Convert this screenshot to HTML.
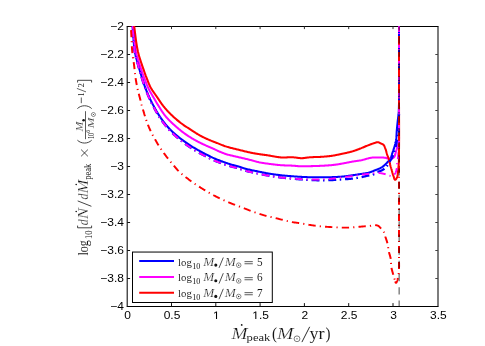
<!DOCTYPE html><html><head><meta charset="utf-8"><title>plot</title><style>html,body{margin:0;padding:0;background:#fff}body{width:485px;height:346px;overflow:hidden;position:relative;font-family:"Liberation Sans",sans-serif}</style></head><body><svg width="485" height="346" viewBox="0 0 485 346" style="position:absolute;left:0;top:0;will-change:transform">
<defs><clipPath id="ax"><rect x="126.7" y="26.0" width="311.8" height="281.0"/></clipPath></defs>
<rect width="485" height="346" fill="#fff"/>
<g stroke="#000" stroke-width="1" fill="none">
<path d="M126.7,26.5H438.5"/>
<path d="M126.7,306.5H438.5"/>
<path d="M127.2,26.5V306.5" stroke="#111" stroke-width="1.1"/>
<path d="M438.0,26.5V306.5" stroke="#111" stroke-width="1.1"/>
<path d="M171.50,306.5v-3.4" stroke="#111"/><path d="M171.50,26.5v2.6" stroke="#333"/>
<path d="M215.80,306.5v-3.4" stroke="#111"/><path d="M215.80,26.5v2.6" stroke="#333"/>
<path d="M260.10,306.5v-3.4" stroke="#111"/><path d="M260.10,26.5v2.6" stroke="#333"/>
<path d="M304.40,306.5v-3.4" stroke="#111"/><path d="M304.40,26.5v2.6" stroke="#333"/>
<path d="M348.70,306.5v-3.4" stroke="#111"/><path d="M348.70,26.5v2.6" stroke="#333"/>
<path d="M393.00,306.5v-3.4" stroke="#111"/><path d="M393.00,26.5v2.6" stroke="#333"/>
<path d="M127.2,54.50h2.9" stroke="#111"/><path d="M438.0,54.50h-2.7" stroke="#444"/>
<path d="M127.2,82.50h2.9" stroke="#111"/><path d="M438.0,82.50h-2.7" stroke="#444"/>
<path d="M127.2,110.50h2.9" stroke="#111"/><path d="M438.0,110.50h-2.7" stroke="#444"/>
<path d="M127.2,138.50h2.9" stroke="#111"/><path d="M438.0,138.50h-2.7" stroke="#444"/>
<path d="M127.2,166.50h2.9" stroke="#111"/><path d="M438.0,166.50h-2.7" stroke="#444"/>
<path d="M127.2,194.50h2.9" stroke="#111"/><path d="M438.0,194.50h-2.7" stroke="#444"/>
<path d="M127.2,222.50h2.9" stroke="#111"/><path d="M438.0,222.50h-2.7" stroke="#444"/>
<path d="M127.2,250.50h2.9" stroke="#111"/><path d="M438.0,250.50h-2.7" stroke="#444"/>
<path d="M127.2,278.50h2.9" stroke="#111"/><path d="M438.0,278.50h-2.7" stroke="#444"/>
</g>
<g clip-path="url(#ax)" fill="none" stroke-linejoin="round">
<path d="M131.70,20.30L131.75,20.71L131.80,21.11L131.85,21.52L131.90,21.92L131.95,22.33L132.00,22.74L132.05,23.14L132.10,23.55L132.15,23.96L132.20,24.36L132.25,24.77L132.30,25.17L132.35,25.58L132.40,25.99L132.45,26.39L132.50,26.80L132.70,28.56L132.87,30.33L133.02,32.10L133.15,33.87L133.28,35.64L133.40,37.42L133.52,39.19L133.64,40.96L133.78,42.73L133.93,44.50L134.11,46.26L134.31,48.02L134.55,49.78L134.82,51.53L135.14,53.27L135.50,55.00L135.65,55.65L135.81,56.30L135.97,56.95L136.13,57.59L136.30,58.24L136.48,58.88L136.65,59.52L136.83,60.17L137.01,60.81L137.20,61.45L137.38,62.09L137.57,62.73L137.75,63.38L137.94,64.02L138.12,64.66L138.30,65.30L138.52,66.07L138.73,66.84L138.95,67.61L139.17,68.38L139.39,69.15L139.61,69.93L139.83,70.70L140.05,71.47L140.27,72.23L140.50,73.00L140.73,73.77L140.96,74.54L141.19,75.31L141.42,76.07L141.66,76.84L141.90,77.60L142.12,78.29L142.34,78.97L142.55,79.66L142.77,80.34L143.00,81.03L143.22,81.71L143.44,82.39L143.67,83.08L143.90,83.76L144.13,84.44L144.37,85.12L144.61,85.80L144.85,86.48L145.09,87.15L145.35,87.83L145.60,88.50L145.85,89.14L146.10,89.78L146.35,90.42L146.60,91.05L146.86,91.69L147.13,92.32L147.39,92.96L147.66,93.59L147.93,94.22L148.20,94.85L148.48,95.48L148.76,96.11L149.04,96.73L149.32,97.36L149.61,97.98L149.90,98.60L150.13,99.09L150.36,99.57L150.60,100.06L150.83,100.55L151.07,101.03L151.31,101.51L151.55,102.00L151.80,102.48L152.04,102.96L152.29,103.44L152.54,103.92L152.79,104.40L153.04,104.87L153.29,105.35L153.54,105.82L153.80,106.30L154.11,106.88L154.43,107.46L154.74,108.03L155.06,108.61L155.38,109.19L155.70,109.76L156.03,110.33L156.36,110.91L156.69,111.48L157.02,112.04L157.36,112.61L157.70,113.17L158.04,113.73L158.39,114.29L158.74,114.85L159.10,115.40L159.67,116.26L160.24,117.12L160.83,117.98L161.42,118.83L162.02,119.68L162.62,120.51L163.24,121.35L163.86,122.17L164.50,122.99L165.14,123.81L165.79,124.61L166.45,125.41L167.12,126.19L167.81,126.97L168.50,127.74L169.20,128.50L169.87,129.20L170.55,129.89L171.24,130.58L171.93,131.25L172.64,131.92L173.35,132.58L174.07,133.23L174.80,133.87L175.53,134.51L176.27,135.14L177.02,135.76L177.76,136.38L178.52,136.99L179.28,137.60L180.04,138.20L180.80,138.80L181.50,139.34L182.20,139.87L182.90,140.40L183.61,140.92L184.33,141.44L185.04,141.95L185.76,142.46L186.49,142.96L187.22,143.46L187.95,143.95L188.68,144.44L189.42,144.92L190.16,145.40L190.90,145.87L191.65,146.34L192.40,146.80L192.79,147.04L193.19,147.28L193.59,147.52L193.98,147.75L194.38,147.99L194.78,148.22L195.18,148.46L195.58,148.69L195.98,148.92L196.38,149.14L196.78,149.37L197.19,149.60L197.59,149.83L197.99,150.05L198.40,150.28L198.80,150.50L199.18,150.71L199.57,150.92L199.95,151.13L200.34,151.34L200.73,151.55L201.11,151.76L201.50,151.97L201.89,152.17L202.28,152.38L202.66,152.58L203.05,152.79L203.44,152.99L203.83,153.19L204.22,153.40L204.61,153.60L205.00,153.80L205.54,154.08L206.08,154.36L206.62,154.64L207.16,154.91L207.70,155.19L208.24,155.47L208.78,155.74L209.32,156.02L209.86,156.29L210.41,156.56L210.95,156.82L211.50,157.08L212.05,157.34L212.59,157.60L213.15,157.85L213.70,158.10L214.23,158.33L214.76,158.56L215.29,158.79L215.83,159.01L216.36,159.23L216.90,159.44L217.43,159.66L217.97,159.87L218.51,160.08L219.05,160.28L219.59,160.49L220.13,160.69L220.67,160.90L221.22,161.10L221.76,161.30L222.30,161.50L222.84,161.70L223.38,161.90L223.92,162.10L224.46,162.29L225.00,162.49L225.54,162.69L226.08,162.88L226.63,163.07L227.17,163.26L227.71,163.45L228.26,163.63L228.80,163.81L229.35,163.99L229.90,164.16L230.45,164.33L231.00,164.50L231.45,164.63L231.91,164.76L232.36,164.88L232.82,165.00L233.28,165.11L233.73,165.23L234.19,165.34L234.65,165.45L235.11,165.56L235.57,165.67L236.03,165.78L236.48,165.90L236.94,166.02L237.39,166.14L237.85,166.27L238.30,166.40L238.64,166.50L238.98,166.61L239.32,166.72L239.65,166.83L239.99,166.95L240.33,167.06L240.66,167.18L241.00,167.30L241.34,167.42L241.67,167.53L242.01,167.65L242.35,167.76L242.68,167.88L243.02,167.99L243.36,168.10L243.70,168.20L244.59,168.46L245.49,168.71L246.38,168.95L247.28,169.18L248.19,169.40L249.09,169.61L250.00,169.82L250.91,170.01L251.82,170.21L252.73,170.39L253.64,170.58L254.55,170.76L255.47,170.95L256.38,171.13L257.29,171.31L258.20,171.50L258.95,171.66L259.71,171.81L260.46,171.97L261.22,172.12L261.97,172.27L262.73,172.42L263.48,172.57L264.24,172.72L264.99,172.86L265.75,173.01L266.51,173.15L267.26,173.28L268.02,173.42L268.78,173.55L269.54,173.68L270.30,173.80L270.89,173.89L271.48,173.99L272.08,174.08L272.67,174.16L273.26,174.25L273.86,174.33L274.45,174.42L275.04,174.50L275.64,174.58L276.23,174.66L276.83,174.73L277.42,174.81L278.02,174.88L278.61,174.96L279.20,175.03L279.80,175.10L280.70,175.20L281.61,175.30L282.51,175.40L283.42,175.49L284.32,175.58L285.23,175.67L286.14,175.75L287.04,175.83L287.95,175.91L288.86,175.98L289.76,176.06L290.67,176.13L291.58,176.20L292.49,176.27L293.39,176.33L294.30,176.40L295.20,176.46L296.10,176.53L297.00,176.59L297.90,176.65L298.80,176.71L299.70,176.77L300.60,176.82L301.50,176.87L302.40,176.92L303.30,176.97L304.20,177.02L305.10,177.06L306.00,177.10L306.90,177.14L307.80,177.17L308.70,177.20L309.61,177.23L310.51,177.25L311.42,177.27L312.32,177.29L313.23,177.30L314.14,177.31L315.04,177.32L315.95,177.33L316.86,177.33L317.76,177.33L318.67,177.33L319.57,177.33L320.48,177.32L321.39,177.32L322.29,177.31L323.20,177.30L323.96,177.29L324.71,177.28L325.47,177.27L326.23,177.26L326.98,177.25L327.74,177.24L328.50,177.22L329.25,177.21L330.01,177.19L330.76,177.17L331.52,177.15L332.28,177.12L333.03,177.10L333.79,177.07L334.54,177.03L335.30,177.00L335.80,176.98L336.30,176.95L336.80,176.93L337.30,176.90L337.80,176.88L338.30,176.85L338.80,176.83L339.30,176.80L339.80,176.77L340.30,176.74L340.80,176.70L341.30,176.67L341.80,176.63L342.30,176.59L342.80,176.55L343.30,176.50L343.86,176.44L344.43,176.38L344.99,176.32L345.56,176.25L346.12,176.18L346.68,176.11L347.24,176.03L347.81,175.95L348.37,175.87L348.93,175.79L349.49,175.71L350.05,175.63L350.62,175.54L351.18,175.46L351.74,175.38L352.30,175.30L352.91,175.21L353.53,175.12L354.14,175.03L354.75,174.94L355.37,174.85L355.98,174.76L356.59,174.66L357.20,174.57L357.82,174.47L358.43,174.38L359.04,174.28L359.65,174.19L360.26,174.09L360.88,173.99L361.49,173.90L362.10,173.80L362.49,173.74L362.88,173.68L363.27,173.63L363.66,173.58L364.05,173.53L364.44,173.48L364.83,173.43L365.22,173.37L365.60,173.32L365.99,173.26L366.38,173.20L366.77,173.13L367.15,173.06L367.54,172.98L367.92,172.89L368.30,172.80L368.73,172.68L369.16,172.56L369.59,172.43L370.01,172.29L370.43,172.14L370.85,171.99L371.27,171.83L371.69,171.67L372.10,171.50L372.52,171.33L372.93,171.16L373.35,170.99L373.76,170.82L374.17,170.64L374.59,170.47L375.00,170.30L375.44,170.12L375.88,169.95L376.32,169.78L376.77,169.61L377.21,169.44L377.65,169.27L378.10,169.09L378.54,168.91L378.97,168.73L379.41,168.54L379.84,168.34L380.26,168.14L380.68,167.92L381.10,167.69L381.50,167.45L381.90,167.20L382.20,167.00L382.50,166.79L382.79,166.57L383.08,166.35L383.36,166.12L383.64,165.89L383.92,165.65L384.19,165.41L384.46,165.17L384.73,164.92L385.00,164.67L385.26,164.42L385.52,164.17L385.78,163.91L386.04,163.66L386.30,163.40L386.53,163.17L386.76,162.94L386.98,162.71L387.21,162.48L387.44,162.24L387.66,162.01L387.88,161.77L388.10,161.53L388.31,161.29L388.52,161.04L388.73,160.79L388.94,160.54L389.13,160.29L389.33,160.03L389.52,159.77L389.70,159.50L389.98,159.06L390.24,158.62L390.48,158.16L390.70,157.69L390.91,157.22L391.11,156.74L391.30,156.26L391.48,155.77L391.65,155.27L391.82,154.78L391.98,154.28L392.14,153.78L392.30,153.28L392.46,152.79L392.63,152.29L392.80,151.80L392.97,151.32L393.14,150.84L393.30,150.35L393.47,149.87L393.63,149.39L393.79,148.90L393.94,148.42L394.10,147.93L394.25,147.44L394.40,146.95L394.54,146.46L394.68,145.97L394.82,145.48L394.95,144.99L395.08,144.49L395.20,144.00L395.26,143.77L395.31,143.54L395.37,143.31L395.42,143.08L395.47,142.85L395.53,142.62L395.58,142.39L395.63,142.16L395.68,141.92L395.73,141.69L395.78,141.46L395.82,141.23L395.87,141.00L395.91,140.77L395.96,140.53L396.00,140.30L396.10,139.68L396.19,139.06L396.27,138.44L396.33,137.82L396.39,137.19L396.43,136.57L396.47,135.94L396.51,135.31L396.54,134.69L396.57,134.06L396.60,133.43L396.63,132.80L396.67,132.18L396.70,131.55L396.75,130.92L396.80,130.30L396.86,129.67L396.91,129.05L396.97,128.42L397.03,127.80L397.09,127.17L397.15,126.55L397.22,125.92L397.28,125.30L397.34,124.67L397.41,124.05L397.47,123.42L397.54,122.80L397.60,122.17L397.67,121.55L397.73,120.92L397.80,120.30L397.85,119.80L397.91,119.30L397.97,118.80L398.03,118.30L398.09,117.80L398.16,117.30L398.22,116.80L398.28,116.30L398.34,115.80L398.40,115.30L398.46,114.80L398.52,114.30L398.57,113.80L398.62,113.30L398.66,112.80L398.70,112.30L398.74,111.80L398.77,111.30L398.79,110.80L398.82,110.30L398.84,109.80L398.86,109.30L398.87,108.80L398.89,108.30L398.90,107.80L398.91,107.30L398.93,106.80L398.94,106.30L398.95,105.80L398.97,105.30L398.98,104.80L399.00,104.30" stroke="#0000ff" stroke-width="2.05"/>
<path d="M132.20,20.30L132.25,20.71L132.30,21.11L132.35,21.52L132.40,21.93L132.45,22.33L132.50,22.74L132.55,23.14L132.60,23.55L132.65,23.96L132.70,24.36L132.75,24.77L132.80,25.18L132.85,25.58L132.90,25.99L132.95,26.39L133.00,26.80L133.21,28.57L133.40,30.34L133.58,32.11L133.75,33.88L133.91,35.66L134.07,37.43L134.24,39.21L134.42,40.98L134.61,42.75L134.82,44.52L135.05,46.28L135.30,48.04L135.59,49.79L135.92,51.54L136.29,53.27L136.70,55.00L136.87,55.65L137.04,56.30L137.22,56.95L137.40,57.60L137.59,58.24L137.78,58.89L137.97,59.53L138.17,60.17L138.37,60.82L138.57,61.46L138.77,62.10L138.97,62.74L139.18,63.38L139.39,64.02L139.59,64.66L139.80,65.30L140.05,66.07L140.30,66.85L140.56,67.62L140.82,68.39L141.08,69.17L141.34,69.94L141.61,70.71L141.87,71.48L142.14,72.24L142.42,73.01L142.69,73.78L142.97,74.55L143.25,75.31L143.53,76.07L143.81,76.84L144.10,77.60L144.36,78.29L144.62,78.98L144.87,79.66L145.13,80.35L145.39,81.04L145.65,81.73L145.92,82.42L146.18,83.10L146.45,83.78L146.73,84.47L147.00,85.15L147.29,85.82L147.58,86.50L147.88,87.17L148.19,87.84L148.50,88.50L148.82,89.15L149.15,89.80L149.48,90.44L149.83,91.08L150.17,91.71L150.53,92.35L150.89,92.98L151.25,93.60L151.62,94.23L151.98,94.85L152.35,95.48L152.72,96.10L153.09,96.73L153.47,97.35L153.83,97.97L154.20,98.60L154.48,99.08L154.76,99.57L155.05,100.05L155.33,100.54L155.61,101.02L155.90,101.50L156.18,101.99L156.47,102.47L156.75,102.95L157.04,103.43L157.33,103.91L157.62,104.39L157.91,104.87L158.21,105.35L158.50,105.82L158.80,106.30L159.16,106.88L159.53,107.46L159.89,108.04L160.25,108.62L160.62,109.20L160.99,109.78L161.36,110.36L161.73,110.94L162.11,111.51L162.49,112.08L162.87,112.64L163.26,113.21L163.66,113.76L164.07,114.31L164.48,114.86L164.90,115.40L165.47,116.10L166.05,116.79L166.64,117.47L167.24,118.15L167.85,118.81L168.47,119.47L169.10,120.11L169.73,120.76L170.37,121.39L171.02,122.02L171.68,122.64L172.34,123.26L173.00,123.88L173.66,124.49L174.33,125.10L175.00,125.70L175.69,126.32L176.38,126.93L177.08,127.54L177.79,128.14L178.49,128.74L179.21,129.33L179.93,129.91L180.65,130.49L181.37,131.07L182.11,131.63L182.84,132.20L183.59,132.75L184.33,133.30L185.08,133.84L185.84,134.37L186.60,134.90L187.30,135.37L188.00,135.84L188.71,136.30L189.42,136.75L190.13,137.20L190.85,137.64L191.58,138.08L192.30,138.51L193.03,138.94L193.76,139.36L194.50,139.78L195.23,140.19L195.97,140.60L196.71,141.00L197.46,141.40L198.20,141.80L199.06,142.25L199.92,142.69L200.79,143.12L201.67,143.54L202.54,143.96L203.42,144.37L204.30,144.77L205.19,145.17L206.08,145.57L206.96,145.96L207.85,146.35L208.74,146.74L209.63,147.13L210.52,147.52L211.41,147.91L212.30,148.30L213.13,148.67L213.96,149.05L214.79,149.43L215.62,149.81L216.45,150.19L217.27,150.57L218.10,150.95L218.93,151.32L219.77,151.69L220.60,152.05L221.44,152.41L222.28,152.75L223.13,153.08L223.98,153.40L224.84,153.71L225.70,154.00L226.45,154.24L227.20,154.46L227.96,154.68L228.71,154.88L229.47,155.07L230.24,155.26L231.00,155.44L231.77,155.62L232.53,155.79L233.30,155.96L234.07,156.13L234.84,156.30L235.60,156.47L236.37,156.64L237.14,156.82L237.90,157.00L238.71,157.20L239.52,157.39L240.34,157.58L241.15,157.77L241.97,157.96L242.78,158.15L243.59,158.33L244.41,158.52L245.22,158.71L246.03,158.90L246.85,159.09L247.66,159.29L248.47,159.49L249.28,159.69L250.09,159.89L250.90,160.10L251.36,160.22L251.81,160.35L252.27,160.47L252.72,160.60L253.18,160.73L253.63,160.86L254.09,161.00L254.54,161.13L255.00,161.26L255.45,161.39L255.91,161.52L256.37,161.64L256.82,161.76L257.28,161.88L257.74,161.99L258.20,162.10L258.95,162.27L259.70,162.42L260.45,162.57L261.20,162.70L261.95,162.83L262.71,162.96L263.47,163.08L264.23,163.19L264.98,163.30L265.74,163.40L266.50,163.50L267.26,163.60L268.02,163.70L268.78,163.80L269.54,163.90L270.30,164.00L270.89,164.08L271.49,164.16L272.08,164.23L272.67,164.31L273.26,164.39L273.86,164.46L274.45,164.53L275.04,164.60L275.64,164.67L276.23,164.74L276.83,164.80L277.42,164.87L278.01,164.93L278.61,164.99L279.20,165.05L279.80,165.10L280.70,165.17L281.61,165.24L282.51,165.29L283.42,165.34L284.33,165.38L285.23,165.42L286.14,165.45L287.05,165.48L287.95,165.51L288.86,165.54L289.77,165.57L290.68,165.60L291.58,165.64L292.49,165.69L293.39,165.74L294.30,165.80L294.68,165.83L295.05,165.86L295.43,165.89L295.80,165.93L296.17,165.96L296.55,166.00L296.92,166.04L297.30,166.07L297.67,166.11L298.05,166.14L298.42,166.17L298.80,166.21L299.17,166.23L299.55,166.26L299.92,166.28L300.30,166.30L300.82,166.32L301.35,166.33L301.87,166.34L302.40,166.34L302.92,166.34L303.45,166.34L303.97,166.33L304.50,166.32L305.02,166.30L305.55,166.29L306.07,166.27L306.60,166.26L307.12,166.24L307.65,166.23L308.18,166.21L308.70,166.20L309.61,166.18L310.51,166.16L311.42,166.14L312.33,166.12L313.23,166.10L314.14,166.08L315.05,166.05L315.95,166.02L316.86,165.99L317.77,165.96L318.67,165.93L319.58,165.89L320.48,165.85L321.39,165.80L322.29,165.75L323.20,165.70L323.96,165.65L324.72,165.61L325.47,165.56L326.23,165.51L326.99,165.47L327.75,165.42L328.50,165.36L329.26,165.31L330.02,165.25L330.77,165.18L331.53,165.12L332.28,165.04L333.04,164.97L333.79,164.88L334.55,164.80L335.30,164.70L335.83,164.63L336.35,164.55L336.88,164.48L337.41,164.40L337.93,164.31L338.46,164.23L338.98,164.14L339.51,164.05L340.03,163.96L340.56,163.87L341.08,163.77L341.60,163.68L342.13,163.58L342.65,163.49L343.18,163.39L343.70,163.30L344.22,163.21L344.74,163.11L345.26,163.01L345.78,162.91L346.29,162.81L346.81,162.70L347.33,162.60L347.85,162.50L348.37,162.39L348.89,162.29L349.40,162.19L349.92,162.08L350.44,161.99L350.96,161.89L351.48,161.79L352.00,161.70L352.56,161.60L353.12,161.51L353.69,161.43L354.25,161.34L354.81,161.26L355.38,161.18L355.94,161.10L356.50,161.02L357.07,160.94L357.63,160.86L358.19,160.77L358.76,160.69L359.32,160.60L359.88,160.50L360.44,160.40L361.00,160.30L361.71,160.15L362.42,159.99L363.12,159.81L363.83,159.62L364.53,159.43L365.23,159.23L365.93,159.02L366.63,158.82L367.33,158.62L368.03,158.43L368.74,158.25L369.44,158.08L370.15,157.93L370.86,157.80L371.58,157.68L372.30,157.60L372.75,157.56L373.20,157.53L373.65,157.50L374.10,157.48L374.55,157.46L375.00,157.45L375.45,157.44L375.90,157.44L376.35,157.44L376.80,157.45L377.25,157.45L377.70,157.46L378.15,157.47L378.60,157.48L379.05,157.49L379.50,157.50L379.86,157.51L380.23,157.51L380.59,157.52L380.95,157.52L381.32,157.53L381.68,157.53L382.05,157.54L382.41,157.55L382.77,157.56L383.14,157.58L383.50,157.60L383.86,157.63L384.22,157.66L384.58,157.70L384.94,157.75L385.30,157.80L385.58,157.85L385.86,157.92L386.13,158.00L386.40,158.08L386.68,158.18L386.95,158.28L387.22,158.37L387.49,158.47L387.77,158.56L388.04,158.65L388.31,158.73L388.59,158.80L388.86,158.85L389.14,158.89L389.42,158.90L389.70,158.90L389.96,158.88L390.22,158.86L390.48,158.83L390.73,158.79L390.99,158.74L391.25,158.68L391.51,158.61L391.76,158.54L392.01,158.46L392.25,158.36L392.49,158.26L392.73,158.15L392.96,158.03L393.18,157.90L393.39,157.75L393.60,157.60L393.88,157.35L394.13,157.07L394.35,156.77L394.55,156.45L394.71,156.11L394.86,155.75L394.99,155.38L395.10,155.00L395.21,154.61L395.30,154.22L395.39,153.83L395.48,153.43L395.58,153.04L395.67,152.65L395.78,152.27L395.90,151.90L396.02,151.54L396.14,151.18L396.26,150.82L396.37,150.46L396.48,150.10L396.59,149.74L396.69,149.38L396.80,149.01L396.90,148.65L397.00,148.29L397.10,147.92L397.20,147.56L397.30,147.19L397.40,146.83L397.50,146.46L397.60,146.10L397.68,145.81L397.76,145.53L397.84,145.24L397.93,144.96L398.01,144.67L398.10,144.39L398.18,144.10L398.26,143.81L398.34,143.53L398.42,143.24L398.49,142.95L398.56,142.66L398.63,142.37L398.69,142.08L398.75,141.79L398.80,141.50L398.87,141.06L398.92,140.61L398.96,140.16L398.99,139.71L399.01,139.26L399.02,138.81L399.02,138.36L399.02,137.91L399.02,137.46L399.01,137.01L399.00,136.56L399.00,136.10L398.99,135.65L398.99,135.20L398.99,134.75L399.00,134.30" stroke="#ff00ff" stroke-width="2.05"/>
<path d="M133.50,20.30L133.55,20.71L133.60,21.11L133.65,21.52L133.70,21.93L133.75,22.33L133.80,22.74L133.85,23.14L133.89,23.55L133.94,23.96L133.99,24.36L134.04,24.77L134.09,25.18L134.14,25.58L134.20,25.99L134.25,26.39L134.30,26.80L134.52,28.57L134.74,30.35L134.95,32.12L135.17,33.90L135.38,35.67L135.60,37.45L135.82,39.23L136.06,41.00L136.32,42.77L136.59,44.53L136.88,46.29L137.20,48.05L137.55,49.80L137.93,51.54L138.35,53.27L138.80,55.00L138.98,55.65L139.17,56.30L139.36,56.95L139.56,57.60L139.76,58.24L139.96,58.89L140.17,59.53L140.38,60.17L140.59,60.81L140.80,61.46L141.02,62.10L141.23,62.74L141.45,63.38L141.67,64.02L141.88,64.66L142.10,65.30L142.36,66.07L142.62,66.85L142.89,67.62L143.15,68.39L143.42,69.16L143.69,69.94L143.96,70.71L144.23,71.48L144.50,72.24L144.78,73.01L145.06,73.78L145.34,74.55L145.63,75.31L145.91,76.08L146.21,76.84L146.50,77.60L146.73,78.19L146.96,78.79L147.18,79.38L147.41,79.98L147.63,80.58L147.86,81.17L148.09,81.76L148.32,82.36L148.56,82.95L148.80,83.54L149.05,84.12L149.30,84.71L149.56,85.29L149.83,85.86L150.11,86.43L150.40,87.00L150.76,87.67L151.13,88.33L151.52,88.98L151.92,89.62L152.32,90.26L152.74,90.89L153.17,91.52L153.60,92.14L154.04,92.76L154.47,93.38L154.92,94.00L155.36,94.62L155.80,95.23L156.24,95.85L156.67,96.48L157.10,97.10L157.49,97.68L157.88,98.26L158.27,98.85L158.66,99.43L159.04,100.02L159.43,100.60L159.82,101.18L160.21,101.77L160.61,102.35L161.00,102.92L161.40,103.50L161.81,104.07L162.22,104.63L162.64,105.19L163.07,105.75L163.50,106.30L163.87,106.76L164.24,107.21L164.62,107.66L165.00,108.11L165.39,108.56L165.78,109.00L166.17,109.44L166.56,109.88L166.96,110.32L167.36,110.75L167.76,111.18L168.16,111.61L168.57,112.03L168.98,112.46L169.39,112.88L169.80,113.30L170.37,113.87L170.94,114.44L171.52,115.00L172.10,115.56L172.68,116.11L173.27,116.66L173.87,117.21L174.47,117.75L175.07,118.28L175.68,118.81L176.29,119.34L176.90,119.86L177.52,120.38L178.14,120.89L178.77,121.40L179.40,121.90L180.09,122.44L180.79,122.98L181.50,123.50L182.21,124.02L182.93,124.53L183.65,125.04L184.37,125.54L185.10,126.03L185.84,126.53L186.57,127.01L187.31,127.50L188.04,127.98L188.78,128.46L189.52,128.94L190.26,129.42L191.00,129.90L191.60,130.29L192.19,130.68L192.79,131.07L193.39,131.46L193.99,131.85L194.59,132.23L195.19,132.62L195.79,133.00L196.39,133.38L197.00,133.75L197.61,134.13L198.22,134.49L198.84,134.85L199.45,135.21L200.07,135.56L200.70,135.90L201.40,136.27L202.11,136.64L202.82,137.00L203.54,137.36L204.25,137.70L204.97,138.05L205.70,138.38L206.42,138.71L207.15,139.04L207.88,139.36L208.62,139.67L209.35,139.99L210.09,140.29L210.82,140.60L211.56,140.90L212.30,141.20L212.54,141.30L212.79,141.39L213.03,141.49L213.27,141.58L213.52,141.68L213.76,141.77L214.00,141.86L214.25,141.96L214.49,142.05L214.74,142.14L214.98,142.23L215.22,142.33L215.47,142.42L215.71,142.51L215.96,142.61L216.20,142.70L216.79,142.93L217.39,143.17L217.98,143.40L218.57,143.64L219.16,143.89L219.75,144.13L220.34,144.37L220.93,144.61L221.52,144.85L222.11,145.08L222.71,145.31L223.30,145.54L223.90,145.77L224.50,145.98L225.10,146.20L225.70,146.40L226.45,146.64L227.20,146.88L227.96,147.10L228.72,147.31L229.48,147.52L230.24,147.72L231.00,147.92L231.77,148.11L232.53,148.30L233.30,148.49L234.07,148.67L234.83,148.85L235.60,149.04L236.37,149.22L237.13,149.41L237.90,149.60L238.71,149.80L239.52,150.01L240.33,150.21L241.14,150.42L241.95,150.62L242.76,150.83L243.57,151.03L244.38,151.23L245.19,151.43L246.01,151.62L246.82,151.81L247.63,152.00L248.45,152.18L249.26,152.36L250.08,152.53L250.90,152.70L251.35,152.79L251.81,152.88L252.26,152.97L252.72,153.05L253.18,153.14L253.63,153.22L254.09,153.30L254.54,153.38L255.00,153.46L255.46,153.54L255.91,153.62L256.37,153.70L256.83,153.78L257.29,153.85L257.74,153.93L258.20,154.00L258.83,154.10L259.46,154.19L260.09,154.29L260.72,154.38L261.35,154.46L261.98,154.55L262.62,154.63L263.25,154.71L263.88,154.79L264.51,154.88L265.14,154.96L265.78,155.04L266.41,155.13L267.04,155.22L267.67,155.31L268.30,155.40L269.02,155.51L269.74,155.63L270.46,155.76L271.17,155.89L271.89,156.02L272.61,156.16L273.32,156.30L274.04,156.43L274.76,156.56L275.47,156.69L276.19,156.81L276.91,156.93L277.63,157.04L278.35,157.14L279.08,157.23L279.80,157.30L280.70,157.37L281.61,157.42L282.51,157.45L283.42,157.46L284.32,157.45L285.23,157.43L286.14,157.41L287.05,157.38L287.96,157.35L288.86,157.33L289.77,157.31L290.68,157.29L291.58,157.29L292.49,157.31L293.40,157.34L294.30,157.40L294.75,157.44L295.20,157.49L295.65,157.54L296.10,157.60L296.55,157.67L297.00,157.73L297.45,157.80L297.90,157.87L298.35,157.93L298.80,158.00L299.25,158.05L299.69,158.10L300.15,158.14L300.60,158.17L301.05,158.19L301.50,158.20L301.95,158.19L302.40,158.17L302.86,158.14L303.31,158.11L303.76,158.06L304.21,158.00L304.65,157.94L305.10,157.88L305.55,157.82L306.00,157.75L306.45,157.68L306.90,157.62L307.35,157.55L307.80,157.50L308.25,157.44L308.70,157.40L309.60,157.33L310.51,157.26L311.41,157.21L312.32,157.16L313.23,157.13L314.13,157.09L315.04,157.07L315.95,157.04L316.86,157.01L317.76,156.98L318.67,156.95L319.58,156.92L320.48,156.88L321.39,156.83L322.30,156.77L323.20,156.70L323.83,156.65L324.47,156.59L325.10,156.54L325.73,156.49L326.36,156.43L327.00,156.37L327.63,156.31L328.26,156.25L328.89,156.18L329.53,156.11L330.16,156.04L330.79,155.96L331.42,155.88L332.04,155.79L332.67,155.70L333.30,155.60L333.84,155.51L334.38,155.41L334.92,155.31L335.46,155.21L336.00,155.10L336.54,154.99L337.07,154.87L337.61,154.76L338.15,154.64L338.68,154.52L339.22,154.40L339.76,154.28L340.29,154.16L340.83,154.04L341.36,153.92L341.90,153.80L342.53,153.66L343.17,153.53L343.80,153.40L344.44,153.27L345.07,153.14L345.71,153.01L346.34,152.88L346.97,152.74L347.61,152.60L348.24,152.46L348.87,152.32L349.50,152.17L350.13,152.01L350.75,151.85L351.38,151.68L352.00,151.50L352.46,151.36L352.91,151.22L353.37,151.08L353.82,150.93L354.27,150.78L354.72,150.63L355.17,150.47L355.62,150.32L356.07,150.16L356.52,149.99L356.97,149.83L357.41,149.67L357.86,149.50L358.31,149.33L358.75,149.17L359.20,149.00L359.75,148.79L360.30,148.57L360.84,148.35L361.39,148.13L361.93,147.90L362.47,147.67L363.01,147.44L363.55,147.21L364.09,146.97L364.63,146.74L365.17,146.51L365.72,146.28L366.26,146.05L366.80,145.83L367.35,145.61L367.90,145.40L368.30,145.25L368.69,145.09L369.09,144.94L369.49,144.79L369.88,144.63L370.28,144.48L370.68,144.33L371.08,144.18L371.48,144.03L371.88,143.89L372.28,143.75L372.68,143.61L373.08,143.48L373.49,143.35L373.89,143.22L374.30,143.10L374.52,143.03L374.75,142.96L374.97,142.88L375.19,142.80L375.41,142.71L375.64,142.63L375.86,142.55L376.08,142.47L376.31,142.40L376.53,142.33L376.76,142.28L376.99,142.23L377.21,142.20L377.44,142.18L377.67,142.18L377.90,142.20L378.09,142.23L378.27,142.27L378.45,142.32L378.63,142.38L378.81,142.44L378.99,142.52L379.16,142.60L379.33,142.69L379.50,142.77L379.67,142.87L379.84,142.96L380.01,143.05L380.18,143.14L380.36,143.23L380.53,143.32L380.70,143.40L380.86,143.47L381.02,143.54L381.18,143.60L381.34,143.67L381.51,143.73L381.67,143.80L381.83,143.86L381.99,143.93L382.16,144.00L382.31,144.07L382.47,144.14L382.62,144.22L382.77,144.31L382.92,144.40L383.06,144.50L383.20,144.60L383.43,144.80L383.64,145.02L383.84,145.26L384.02,145.51L384.18,145.77L384.33,146.04L384.47,146.33L384.60,146.61L384.72,146.91L384.83,147.21L384.95,147.51L385.05,147.81L385.16,148.11L385.27,148.41L385.38,148.71L385.50,149.00L385.64,149.35L385.77,149.71L385.89,150.06L386.00,150.42L386.10,150.79L386.20,151.15L386.30,151.52L386.39,151.88L386.48,152.25L386.58,152.62L386.67,152.99L386.76,153.35L386.86,153.72L386.97,154.08L387.08,154.44L387.20,154.80L387.30,155.09L387.41,155.38L387.52,155.67L387.64,155.95L387.76,156.24L387.88,156.52L388.00,156.81L388.12,157.09L388.24,157.38L388.36,157.66L388.47,157.95L388.59,158.24L388.70,158.53L388.80,158.81L388.90,159.11L389.00,159.40L389.11,159.76L389.21,160.13L389.30,160.49L389.38,160.86L389.46,161.23L389.54,161.60L389.61,161.97L389.68,162.34L389.75,162.71L389.82,163.09L389.89,163.46L389.96,163.83L390.04,164.20L390.12,164.57L390.21,164.93L390.30,165.30L390.37,165.55L390.44,165.80L390.51,166.05L390.58,166.30L390.66,166.56L390.73,166.81L390.81,167.05L390.88,167.30L390.96,167.55L391.04,167.80L391.12,168.05L391.19,168.30L391.27,168.55L391.35,168.80L391.42,169.05L391.50,169.30L391.63,169.74L391.75,170.18L391.87,170.62L391.98,171.07L392.10,171.51L392.21,171.95L392.32,172.40L392.44,172.84L392.56,173.28L392.68,173.72L392.81,174.16L392.95,174.60L393.10,175.03L393.25,175.46L393.42,175.88L393.60,176.30L393.69,176.54L393.78,176.80L393.86,177.08L393.93,177.38L394.01,177.69L394.08,178.00L394.16,178.31L394.24,178.60L394.33,178.87L394.44,179.12L394.55,179.33L394.68,179.51L394.83,179.64L395.00,179.72L395.19,179.74L395.40,179.70L395.52,179.65L395.63,179.58L395.74,179.51L395.84,179.42L395.93,179.32L396.01,179.22L396.09,179.11L396.16,178.99L396.24,178.87L396.30,178.74L396.37,178.62L396.44,178.49L396.50,178.36L396.57,178.24L396.63,178.12L396.70,178.00L396.91,177.62L397.09,177.22L397.24,176.82L397.37,176.40L397.47,175.98L397.56,175.55L397.62,175.11L397.68,174.67L397.72,174.22L397.76,173.77L397.79,173.32L397.82,172.87L397.86,172.43L397.90,171.98L397.94,171.54L398.00,171.10L398.07,170.61L398.14,170.12L398.20,169.62L398.26,169.13L398.32,168.64L398.37,168.15L398.43,167.65L398.48,167.16L398.52,166.66L398.57,166.17L398.61,165.67L398.65,165.18L398.69,164.69L398.73,164.19L398.77,163.70L398.80,163.20L398.85,162.40L398.89,161.59L398.92,160.78L398.95,159.98L398.97,159.17L398.98,158.37L398.99,157.56L398.99,156.75L398.99,155.95L398.99,155.14L398.99,154.33L398.99,153.53L398.99,152.72L398.99,151.91L398.99,151.11L399.00,150.30L399.03,147.18L399.06,144.05L399.08,140.93L399.09,137.80L399.09,134.68L399.09,131.55L399.09,128.43L399.08,125.30L399.07,122.18L399.05,119.05L399.04,115.93L399.03,112.80L399.02,109.68L399.01,106.55L399.00,103.43L399.00,100.30L399.00,95.30L399.00,90.30L399.00,85.30L399.00,80.30L399.00,75.30L399.00,70.30L399.00,65.30L399.00,60.30L399.00,55.30L399.00,50.30L399.00,45.30L399.00,40.30L399.00,35.30L399.00,30.30L399.00,25.30L399.00,20.30" stroke="#ff0000" stroke-width="2.05"/>
<path transform="scale(1.044,1)" d="M126.08,20.59L126.13,20.99L126.17,21.40L126.22,21.80L126.27,22.21L126.32,22.62L126.37,23.02L126.41,23.43L126.46,23.83L126.51,24.24L126.56,24.65L126.61,25.05L126.66,25.46L126.70,25.87L126.75,26.27L126.80,26.68L126.84,27.09L127.03,28.85L127.20,30.61L127.34,32.38L127.47,34.15L127.59,35.93L127.70,37.70L127.82,39.47L127.94,41.25L128.07,43.02L128.22,44.78L128.39,46.55L128.58,48.31L128.80,50.06L129.07,51.81L129.37,53.55L129.72,55.28L129.86,55.93L130.01,56.58L130.16,57.23L130.32,57.88L130.49,58.52L130.65,59.17L130.82,59.81L130.99,60.45L131.17,61.09L131.34,61.74L131.52,62.38L131.70,63.02L131.87,63.66L132.05,64.30L132.23,64.94L132.40,65.58L132.61,66.36L132.81,67.13L133.02,67.91L133.23,68.68L133.44,69.46L133.65,70.23L133.86,71.00L134.07,71.78L134.29,72.55L134.50,73.32L134.72,74.09L134.94,74.86L135.16,75.63L135.38,76.40L135.61,77.17L135.83,77.94L136.04,78.63L136.25,79.32L136.46,80.02L136.67,80.71L136.88,81.40L137.09,82.09L137.30,82.78L137.52,83.47L137.74,84.16L137.96,84.84L138.18,85.53L138.41,86.22L138.64,86.90L138.87,87.58L139.11,88.27L139.35,88.94L139.59,89.59L139.82,90.24L140.06,90.88L140.31,91.53L140.55,92.17L140.80,92.81L141.05,93.45L141.31,94.09L141.56,94.73L141.82,95.37L142.09,96.01L142.35,96.64L142.62,97.27L142.89,97.91L143.16,98.54L143.44,99.17L143.66,99.66L143.88,100.16L144.10,100.65L144.33,101.14L144.55,101.63L144.78,102.12L145.01,102.61L145.24,103.10L145.48,103.59L145.71,104.07L145.95,104.56L146.18,105.04L146.42,105.53L146.66,106.01L146.90,106.50L147.15,106.98L147.44,107.57L147.74,108.15L148.04,108.74L148.35,109.33L148.65,109.91L148.96,110.49L149.27,111.08L149.58,111.66L149.89,112.24L150.21,112.81L150.53,113.39L150.85,113.96L151.18,114.53L151.51,115.10L151.85,115.67L152.19,116.23L152.73,117.11L153.27,117.98L153.83,118.85L154.39,119.72L154.96,120.58L155.54,121.44L156.12,122.28L156.72,123.13L157.32,123.96L157.93,124.79L158.55,125.61L159.18,126.42L159.82,127.23L160.47,128.02L161.13,128.81L161.79,129.59L162.43,130.31L163.08,131.02L163.73,131.72L164.39,132.41L165.06,133.09L165.74,133.77L166.43,134.44L167.12,135.10L167.82,135.75L168.52,136.40L169.23,137.05L169.94,137.68L170.66,138.32L171.38,138.94L172.10,139.56L172.83,140.18L173.49,140.74L174.16,141.29L174.83,141.83L175.51,142.37L176.19,142.91L176.87,143.44L177.55,143.96L178.24,144.49L178.94,145.00L179.63,145.51L180.33,146.02L181.03,146.52L181.74,147.02L182.44,147.51L183.15,148.00L183.87,148.48L184.24,148.74L184.62,148.99L184.99,149.24L185.37,149.48L185.75,149.73L186.13,149.98L186.50,150.22L186.88,150.47L187.27,150.71L187.65,150.95L188.03,151.19L188.41,151.43L188.80,151.66L189.18,151.90L189.57,152.13L189.95,152.37L190.32,152.58L190.68,152.80L191.05,153.02L191.42,153.23L191.79,153.45L192.16,153.66L192.53,153.87L192.90,154.08L193.27,154.29L193.64,154.50L194.01,154.70L194.38,154.91L194.75,155.12L195.13,155.32L195.50,155.53L195.87,155.73L196.39,156.01L196.90,156.30L197.42,156.58L197.93,156.86L198.45,157.15L198.96,157.43L199.48,157.71L200.00,157.98L200.52,158.26L201.04,158.53L201.56,158.80L202.08,159.07L202.61,159.33L203.13,159.59L203.66,159.84L204.19,160.09L204.70,160.32L205.21,160.54L205.72,160.77L206.23,160.99L206.74,161.20L207.26,161.41L207.77,161.62L208.29,161.83L208.81,162.04L209.33,162.24L209.85,162.44L210.36,162.64L210.88,162.84L211.40,163.03L211.93,163.23L212.45,163.43L212.96,163.62L213.48,163.81L214.00,164.01L214.52,164.20L215.04,164.39L215.56,164.58L216.08,164.77L216.60,164.95L217.12,165.13L217.65,165.32L218.17,165.49L218.69,165.67L219.22,165.84L219.74,166.01L220.27,166.18L220.80,166.34L221.23,166.47L221.67,166.60L222.11,166.72L222.54,166.83L222.98,166.95L223.42,167.06L223.86,167.17L224.30,167.28L224.74,167.39L225.18,167.50L225.62,167.61L226.06,167.73L226.49,167.85L226.93,167.97L227.36,168.10L227.79,168.23L228.12,168.34L228.44,168.45L228.77,168.56L229.09,168.68L229.41,168.79L229.73,168.91L230.06,169.03L230.38,169.15L230.70,169.27L231.02,169.39L231.34,169.51L231.66,169.63L231.98,169.75L232.31,169.86L232.63,169.97L232.96,170.08L233.81,170.35L234.66,170.61L235.52,170.85L236.38,171.09L237.24,171.32L238.11,171.54L238.98,171.75L239.84,171.95L240.71,172.15L241.58,172.35L242.46,172.54L243.33,172.73L244.20,172.92L245.07,173.11L245.94,173.31L246.81,173.50L247.53,173.66L248.25,173.82L248.98,173.99L249.70,174.15L250.42,174.30L251.14,174.46L251.86,174.62L252.58,174.77L253.31,174.92L254.03,175.07L254.75,175.22L255.48,175.36L256.20,175.50L256.93,175.64L257.65,175.77L258.38,175.90L258.94,176.00L259.51,176.10L260.08,176.19L260.64,176.29L261.21,176.38L261.78,176.47L262.34,176.55L262.91,176.64L263.48,176.72L264.05,176.81L264.61,176.89L265.18,176.97L265.75,177.05L266.32,177.13L266.89,177.21L267.46,177.28L268.32,177.40L269.18,177.51L270.05,177.61L270.91,177.72L271.77,177.82L272.64,177.92L273.50,178.01L274.37,178.10L275.23,178.19L276.10,178.28L276.97,178.37L277.83,178.45L278.70,178.54L279.56,178.62L280.43,178.71L281.29,178.79L282.15,178.87L283.01,178.95L283.86,179.03L284.72,179.11L285.58,179.19L286.43,179.27L287.29,179.35L288.14,179.42L289.00,179.49L289.86,179.56L290.72,179.63L291.57,179.70L292.43,179.76L293.29,179.81L294.15,179.87L295.00,179.92L295.87,179.96L296.73,180.01L297.59,180.05L298.46,180.09L299.32,180.13L300.18,180.16L301.05,180.19L301.91,180.22L302.77,180.25L303.64,180.27L304.50,180.29L305.36,180.30L306.23,180.31L307.09,180.32L307.95,180.32L308.82,180.32L309.54,180.32L310.27,180.31L311.00,180.30L311.72,180.29L312.45,180.27L313.17,180.25L313.90,180.23L314.62,180.21L315.35,180.18L316.08,180.16L316.80,180.13L317.53,180.09L318.25,180.06L318.98,180.02L319.70,179.98L320.43,179.94L320.91,179.91L321.39,179.88L321.87,179.85L322.35,179.82L322.83,179.78L323.31,179.75L323.79,179.71L324.27,179.67L324.75,179.63L325.23,179.59L325.71,179.56L326.19,179.52L326.67,179.48L327.15,179.44L327.63,179.40L328.11,179.37L328.64,179.33L329.17,179.29L329.70,179.26L330.23,179.22L330.76,179.19L331.29,179.15L331.82,179.12L332.35,179.09L332.88,179.05L333.41,179.01L333.94,178.97L334.47,178.93L335.00,178.88L335.53,178.83L336.06,178.78L336.59,178.72L337.18,178.65L337.77,178.58L338.36,178.50L338.95,178.42L339.54,178.34L340.13,178.25L340.71,178.17L341.30,178.07L341.89,177.98L342.47,177.88L343.06,177.78L343.64,177.67L344.23,177.56L344.81,177.45L345.40,177.33L345.98,177.21L346.36,177.13L346.74,177.05L347.12,176.96L347.50,176.87L347.88,176.78L348.25,176.69L348.63,176.59L349.01,176.50L349.39,176.40L349.77,176.30L350.14,176.21L350.52,176.11L350.90,176.02L351.28,175.93L351.66,175.83L352.04,175.75L352.38,175.67L352.73,175.60L353.08,175.54L353.43,175.48L353.78,175.42L354.13,175.36L354.49,175.30L354.84,175.24L355.19,175.18L355.54,175.11L355.88,175.04L356.23,174.95L356.57,174.86L356.90,174.75L357.24,174.63L357.57,174.50L357.84,174.37L358.11,174.24L358.38,174.10L358.64,173.95L358.90,173.79L359.16,173.62L359.41,173.46L359.67,173.29L359.92,173.11L360.17,172.93L360.42,172.76L360.67,172.58L360.92,172.41L361.18,172.23L361.43,172.06L361.69,171.90" stroke="#0000ff" stroke-width="2.25" stroke-dasharray="7.60 3.35 1.45 3.65" stroke-dashoffset="6.83"/>
<path transform="scale(1.044,1)" d="M361.69,171.90L362.00,171.77L362.31,171.65L362.63,171.53L362.95,171.42L363.27,171.30L363.59,171.19L363.91,171.08L364.23,170.96L364.55,170.84L364.86,170.72L365.18,170.59L365.48,170.45L365.79,170.30L366.09,170.15L366.38,169.98L366.67,169.80L366.93,169.62L367.19,169.44L367.44,169.24L367.69,169.05L367.94,168.84L368.18,168.63L368.42,168.42L368.66,168.20L368.89,167.97L369.12,167.75L369.34,167.51L369.56,167.28L369.78,167.04L369.99,166.79L370.20,166.55L370.40,166.30L370.62,166.03L370.82,165.75L371.02,165.46L371.21,165.17L371.40,164.87L371.58,164.57L371.75,164.27L371.92,163.96L372.09,163.66L372.26,163.35L372.43,163.04L372.59,162.73L372.76,162.42L372.93,162.11L373.10,161.80L373.28,161.50L373.43,161.23L373.60,160.97L373.76,160.70L373.92,160.44L374.09,160.18L374.25,159.91L374.42,159.65L374.58,159.38L374.74,159.12L374.90,158.85L375.06,158.58L375.21,158.31L375.35,158.04L375.50,157.76L375.63,157.48L375.77,157.20L375.91,156.88L376.04,156.55L376.17,156.22L376.29,155.89L376.40,155.55L376.51,155.21L376.61,154.88L376.72,154.54L376.81,154.19L376.91,153.85L377.01,153.51L377.10,153.17L377.20,152.82L377.29,152.48L377.39,152.14L377.49,151.80L377.64,151.32L377.78,150.83L377.93,150.35L378.07,149.87L378.22,149.38L378.36,148.90L378.51,148.41L378.64,147.93L378.78,147.44L378.91,146.95L379.04,146.46L379.16,145.97L379.28,145.48L379.39,144.99L379.50,144.50L379.60,144.00L379.66,143.65L379.72,143.29L379.78,142.94L379.84,142.58L379.89,142.23L379.94,141.87L379.99,141.52L380.03,141.16L380.07,140.80L380.12,140.44L380.16,140.09L380.20,139.73L380.24,139.37L380.28,139.01L380.32,138.66L380.36,138.30L380.42,137.80L380.48,137.30L380.53,136.80L380.58,136.30L380.63,135.80L380.68,135.30L380.72,134.80L380.77,134.30L380.81,133.80L380.86,133.30L380.90,132.80L380.95,132.30L380.99,131.80L381.04,131.30L381.08,130.80L381.13,130.30L381.18,129.80L381.23,129.30L381.28,128.80L381.33,128.30L381.39,127.80L381.44,127.30L381.49,126.80L381.54,126.30L381.59,125.80L381.64,125.30L381.69,124.80L381.74,124.30L381.78,123.80L381.82,123.30L381.86,122.80L381.90,122.30L381.93,121.80L381.96,121.30L381.98,120.80L382.00,120.30L382.02,119.80L382.04,119.30L382.06,118.80L382.07,118.30L382.08,117.80L382.10,117.30L382.11,116.80L382.12,116.30L382.14,115.80L382.15,115.30L382.17,114.80L382.18,114.30" stroke="#0000ff" stroke-width="2.25" stroke-dasharray="7.60 3.35 1.45 3.65" stroke-dashoffset="0.30"/>
<path transform="scale(1.044,1)" d="M126.08,20.59L126.13,20.99L126.17,21.40L126.22,21.80L126.27,22.21L126.32,22.62L126.37,23.02L126.41,23.43L126.46,23.83L126.51,24.24L126.56,24.65L126.61,25.05L126.66,25.46L126.70,25.87L126.75,26.27L126.80,26.68L126.84,27.09L127.03,28.85L127.20,30.61L127.34,32.38L127.47,34.15L127.59,35.93L127.70,37.70L127.82,39.47L127.94,41.25L128.07,43.02L128.22,44.78L128.39,46.55L128.58,48.31L128.80,50.06L129.07,51.81L129.37,53.55L129.72,55.28L129.86,55.93L130.01,56.58L130.16,57.23L130.32,57.88L130.49,58.52L130.65,59.17L130.82,59.81L130.99,60.45L131.17,61.09L131.34,61.74L131.52,62.38L131.70,63.02L131.87,63.66L132.05,64.30L132.23,64.94L132.40,65.58L132.61,66.36L132.81,67.13L133.02,67.91L133.23,68.68L133.44,69.46L133.65,70.23L133.86,71.00L134.07,71.78L134.29,72.55L134.50,73.32L134.72,74.09L134.94,74.86L135.16,75.63L135.38,76.40L135.61,77.17L135.83,77.94L136.04,78.63L136.25,79.32L136.46,80.02L136.67,80.71L136.88,81.40L137.09,82.09L137.30,82.78L137.52,83.47L137.74,84.16L137.96,84.84L138.18,85.53L138.41,86.22L138.64,86.90L138.87,87.58L139.11,88.27L139.35,88.94L139.59,89.59L139.82,90.24L140.06,90.88L140.31,91.53L140.55,92.17L140.80,92.81L141.05,93.45L141.31,94.09L141.56,94.73L141.82,95.37L142.09,96.01L142.35,96.64L142.62,97.27L142.89,97.91L143.16,98.54L143.44,99.17L143.66,99.66L143.88,100.16L144.10,100.65L144.33,101.14L144.55,101.63L144.78,102.12L145.01,102.61L145.24,103.10L145.48,103.59L145.71,104.07L145.95,104.56L146.18,105.04L146.42,105.53L146.66,106.01L146.90,106.50L147.15,106.98L147.44,107.57L147.74,108.15L148.04,108.74L148.35,109.33L148.65,109.91L148.96,110.49L149.27,111.08L149.58,111.66L149.89,112.24L150.21,112.81L150.53,113.39L150.85,113.96L151.18,114.53L151.51,115.10L151.85,115.67L152.19,116.23L152.73,117.11L153.27,117.98L153.83,118.85L154.39,119.72L154.96,120.58L155.54,121.44L156.12,122.28L156.72,123.13L157.32,123.96L157.93,124.79L158.55,125.61L159.18,126.42L159.82,127.23L160.47,128.02L161.13,128.81L161.79,129.59L162.43,130.31L163.08,131.02L163.73,131.72L164.39,132.41L165.06,133.09L165.74,133.77L166.43,134.44L167.12,135.10L167.82,135.75L168.52,136.40L169.23,137.05L169.94,137.68L170.66,138.32L171.38,138.94L172.10,139.56L172.83,140.18L173.49,140.74L174.16,141.29L174.83,141.83L175.51,142.37L176.19,142.91L176.87,143.44L177.55,143.96L178.24,144.49L178.94,145.00L179.63,145.51L180.33,146.02L181.03,146.52L181.74,147.02L182.44,147.51L183.15,148.00L183.87,148.48L184.24,148.74L184.62,148.99L184.99,149.24L185.37,149.48L185.75,149.73L186.13,149.98L186.50,150.22L186.88,150.47L187.27,150.71L187.65,150.95L188.03,151.19L188.41,151.43L188.80,151.66L189.18,151.90L189.57,152.13L189.95,152.37L190.32,152.58L190.68,152.80L191.05,153.02L191.42,153.23L191.79,153.45L192.16,153.66L192.53,153.87L192.90,154.08L193.27,154.29L193.64,154.50L194.01,154.70L194.38,154.91L194.75,155.12L195.13,155.32L195.50,155.53L195.87,155.73L196.39,156.01L196.90,156.30L197.42,156.58L197.93,156.86L198.45,157.15L198.96,157.43L199.48,157.71L200.00,157.98L200.52,158.26L201.04,158.53L201.56,158.80L202.08,159.07L202.61,159.33L203.13,159.59L203.66,159.84L204.19,160.09L204.70,160.32L205.21,160.54L205.72,160.77L206.23,160.99L206.74,161.20L207.26,161.41L207.77,161.62L208.29,161.83L208.81,162.04L209.33,162.24L209.85,162.44L210.36,162.64L210.88,162.84L211.40,163.03L211.93,163.23L212.45,163.43L212.96,163.62L213.48,163.81L214.00,164.01L214.52,164.20L215.04,164.39L215.56,164.58L216.08,164.77L216.60,164.95L217.12,165.13L217.65,165.32L218.17,165.49L218.69,165.67L219.22,165.84L219.74,166.01L220.27,166.18L220.80,166.34L221.23,166.47L221.67,166.60L222.11,166.72L222.54,166.83L222.98,166.95L223.42,167.06L223.86,167.17L224.30,167.28L224.74,167.39L225.18,167.50L225.62,167.61L226.06,167.73L226.49,167.85L226.93,167.97L227.36,168.10L227.79,168.23L228.12,168.34L228.44,168.45L228.77,168.56L229.09,168.68L229.41,168.79L229.73,168.91L230.06,169.03L230.38,169.15L230.70,169.27L231.02,169.39L231.34,169.51L231.66,169.63L231.98,169.75L232.31,169.86L232.63,169.97L232.96,170.08L233.81,170.35L234.66,170.61L235.52,170.85L236.38,171.09L237.24,171.32L238.11,171.54L238.98,171.75L239.84,171.95L240.71,172.15L241.58,172.35L242.46,172.54L243.33,172.73L244.20,172.92L245.07,173.11L245.94,173.31L246.81,173.50L247.53,173.66L248.25,173.82L248.98,173.99L249.70,174.15L250.42,174.30L251.14,174.46L251.86,174.62L252.58,174.77L253.31,174.92L254.03,175.07L254.75,175.22L255.48,175.36L256.20,175.50L256.93,175.64L257.65,175.77L258.38,175.90L258.94,176.00L259.51,176.10L260.08,176.19L260.64,176.29L261.21,176.38L261.78,176.47L262.34,176.56L262.91,176.64L263.48,176.73L264.05,176.81L264.61,176.89L265.18,176.97L265.75,177.05L266.32,177.13L266.89,177.21L267.46,177.28L268.32,177.39L269.19,177.50L270.05,177.60L270.92,177.70L271.78,177.80L272.65,177.89L273.52,177.97L274.38,178.06L275.25,178.14L276.12,178.22L276.99,178.30L277.86,178.37L278.72,178.44L279.59,178.52L280.46,178.58L281.33,178.65L282.19,178.72L283.05,178.78L283.91,178.85L284.77,178.91L285.64,178.97L286.50,179.03L287.36,179.08L288.22,179.14L289.09,179.19L289.95,179.23L290.81,179.28L291.67,179.32L292.54,179.35L293.40,179.39L294.26,179.41L295.13,179.44L296.00,179.46L296.87,179.48L297.74,179.49L298.61,179.50L299.48,179.51L300.35,179.51L301.23,179.51L302.10,179.51L302.97,179.50L303.84,179.49L304.71,179.48L305.58,179.46L306.45,179.43L307.32,179.40L308.20,179.37L309.07,179.33L309.80,179.30L310.54,179.26L311.27,179.22L312.01,179.17L312.74,179.13L313.48,179.08L314.21,179.03L314.95,178.97L315.68,178.91L316.42,178.85L317.15,178.78L317.89,178.71L318.62,178.64L319.35,178.56L320.08,178.48L320.82,178.40L321.31,178.34L321.80,178.27L322.29,178.21L322.78,178.14L323.26,178.07L323.75,178.00L324.24,177.92L324.73,177.85L325.22,177.78L325.71,177.70L326.20,177.62L326.68,177.55L327.17,177.48L327.66,177.40L328.15,177.33L328.64,177.26L329.18,177.19L329.72,177.11L330.25,177.04L330.79,176.97L331.33,176.90L331.87,176.83L332.41,176.76L332.95,176.69L333.48,176.62L334.02,176.55L334.56,176.48L335.10,176.40L335.64,176.33L336.18,176.25L336.71,176.18L337.25,176.10L337.84,176.01L338.43,175.92L339.01,175.82L339.60,175.72L340.19,175.62L340.77,175.52L341.36,175.42L341.94,175.32L342.53,175.22L343.12,175.12L343.70,175.02L344.29,174.93L344.88,174.83L345.46,174.75L346.05,174.66L346.64,174.58L346.90,174.55L347.17,174.52L347.43,174.49L347.70,174.46L347.96,174.43L348.22,174.40L348.49,174.37L348.75,174.34L349.02,174.31L349.28,174.28L349.54,174.25L349.81,174.22L350.07,174.19L350.33,174.16L350.60,174.13L350.86,174.10L351.22,174.05L351.58,174.01L351.94,173.96L352.30,173.90L352.66,173.85L353.02,173.80L353.38,173.74L353.73,173.69L354.09,173.64L354.45,173.58L354.81,173.53L355.17,173.48L355.53,173.43L355.89,173.39L356.25,173.34L356.61,173.30L356.98,173.26L357.35,173.22L357.72,173.19L358.09,173.15L358.46,173.12L358.83,173.09L359.21,173.06L359.58,173.03L359.95,173.00L360.32,172.97L360.69,172.95L361.06,172.92L361.43,172.89L361.81,172.86L362.18,172.83L362.55,172.80" stroke="#ff00ff" stroke-width="1.9" stroke-dasharray="7.00 3.95 1.15 3.95" stroke-dashoffset="6.53"/>
<path transform="scale(1.044,1)" d="M362.55,172.80L362.94,172.88L363.33,172.95L363.72,173.03L364.11,173.10L364.50,173.17L364.89,173.24L365.29,173.31L365.68,173.38L366.07,173.46L366.46,173.53L366.85,173.61L367.24,173.70L367.62,173.79L368.01,173.88L368.39,173.99L368.77,174.10L369.06,174.19L369.34,174.30L369.62,174.41L369.90,174.53L370.18,174.66L370.45,174.78L370.73,174.91L371.01,175.04L371.28,175.17L371.56,175.29L371.84,175.40L372.12,175.51L372.40,175.60L372.69,175.68L372.98,175.75L373.28,175.80L373.46,175.83L373.65,175.86L373.84,175.89L374.03,175.91L374.22,175.94L374.41,175.97L374.60,175.99L374.79,176.00L374.98,176.01L375.16,176.01L375.35,176.01L375.53,175.99L375.72,175.96L375.90,175.92L376.07,175.87L376.25,175.80L376.41,175.72L376.56,175.63L376.71,175.53L376.85,175.42L376.99,175.30L377.12,175.18L377.25,175.04L377.37,174.90L377.49,174.76L377.60,174.61L377.72,174.46L377.83,174.31L377.94,174.16L378.05,174.00L378.15,173.85L378.26,173.70L378.43,173.44L378.59,173.17L378.74,172.89L378.88,172.60L379.01,172.31L379.13,172.01L379.24,171.71L379.35,171.41L379.44,171.10L379.53,170.79L379.62,170.47L379.70,170.16L379.77,169.84L379.84,169.53L379.91,169.21L379.98,168.90L380.04,168.58L380.09,168.26L380.13,167.94L380.17,167.61L380.19,167.29L380.21,166.96L380.23,166.64L380.24,166.31L380.25,165.98L380.25,165.66L380.26,165.33L380.27,165.00L380.29,164.68L380.31,164.35L380.33,164.02L380.36,163.70L380.41,163.34L380.45,162.98L380.50,162.63L380.56,162.27L380.61,161.92L380.67,161.56L380.73,161.20L380.79,160.85L380.85,160.49L380.91,160.14L380.97,159.78L381.02,159.43L381.08,159.07L381.13,158.71L381.18,158.36L381.23,158.00L381.30,157.40L381.36,156.79L381.42,156.19L381.47,155.58L381.52,154.98L381.57,154.37L381.61,153.76L381.64,153.16L381.68,152.55L381.71,151.94L381.75,151.34L381.78,150.73L381.81,150.12L381.84,149.51L381.87,148.91L381.90,148.30L381.92,147.80L381.94,147.30L381.97,146.80L381.99,146.30L382.00,145.80L382.02,145.30L382.04,144.80L382.06,144.30L382.07,143.80L382.09,143.30L382.10,142.80L382.12,142.30L382.13,141.80L382.15,141.30L382.17,140.80L382.18,140.30" stroke="#ff00ff" stroke-width="1.9" stroke-dasharray="7.00 3.95 1.15 3.95" stroke-dashoffset="0.00"/>
<path transform="scale(1.044,1)" d="M124.43,20.30L124.47,20.71L124.52,21.11L124.57,21.52L124.62,21.92L124.67,22.33L124.72,22.74L124.77,23.14L124.82,23.55L124.87,23.96L124.91,24.36L124.96,24.77L125.01,25.17L125.06,25.58L125.10,25.99L125.15,26.39L125.19,26.80L125.37,28.56L125.51,30.32L125.64,32.08L125.75,33.84L125.84,35.61L125.92,37.37L125.99,39.14L126.06,40.90L126.13,42.67L126.21,44.44L126.30,46.20L126.40,47.97L126.52,49.73L126.65,51.49L126.82,53.25L127.01,55.00L127.09,55.65L127.17,56.29L127.26,56.93L127.35,57.58L127.44,58.22L127.53,58.86L127.63,59.51L127.72,60.15L127.82,60.79L127.91,61.44L128.01,62.08L128.10,62.72L128.19,63.37L128.28,64.01L128.37,64.66L128.45,65.30L128.54,66.07L128.63,66.84L128.71,67.60L128.79,68.37L128.87,69.14L128.94,69.91L129.02,70.68L129.09,71.45L129.17,72.22L129.24,72.99L129.32,73.76L129.40,74.53L129.49,75.30L129.58,76.07L129.68,76.83L129.79,77.60L129.89,78.28L129.99,78.97L130.10,79.65L130.21,80.34L130.32,81.02L130.43,81.70L130.55,82.38L130.66,83.07L130.78,83.75L130.91,84.43L131.04,85.11L131.16,85.79L131.30,86.47L131.43,87.14L131.57,87.82L131.70,88.50L131.86,89.22L132.02,89.95L132.18,90.67L132.35,91.39L132.52,92.11L132.70,92.82L132.87,93.54L133.05,94.26L133.23,94.98L133.42,95.69L133.60,96.41L133.78,97.13L133.96,97.84L134.14,98.56L134.31,99.28L134.48,100.00L134.56,100.33L134.64,100.66L134.71,100.99L134.79,101.33L134.87,101.66L134.94,101.99L135.02,102.32L135.09,102.65L135.17,102.98L135.25,103.32L135.32,103.65L135.40,103.98L135.48,104.31L135.56,104.64L135.64,104.97L135.73,105.30L135.86,105.80L135.99,106.31L136.13,106.81L136.27,107.31L136.41,107.81L136.55,108.31L136.70,108.81L136.84,109.31L136.99,109.81L137.14,110.31L137.29,110.81L137.44,111.30L137.59,111.80L137.73,112.30L137.88,112.80L138.03,113.30L138.14,113.71L138.26,114.11L138.38,114.52L138.49,114.93L138.61,115.34L138.73,115.74L138.84,116.15L138.96,116.56L139.08,116.97L139.19,117.37L139.31,117.78L139.44,118.18L139.56,118.59L139.68,118.99L139.81,119.40L139.94,119.80L140.12,120.34L140.30,120.88L140.48,121.41L140.67,121.95L140.86,122.48L141.05,123.02L141.24,123.55L141.44,124.08L141.64,124.62L141.84,125.14L142.04,125.67L142.25,126.20L142.46,126.73L142.67,127.25L142.89,127.78L143.10,128.30L143.28,128.72L143.46,129.15L143.64,129.57L143.83,130.00L144.01,130.42L144.20,130.84L144.39,131.26L144.58,131.68L144.77,132.10L144.96,132.52L145.16,132.93L145.36,133.35L145.56,133.76L145.76,134.18L145.96,134.59L146.17,135.00L146.34,135.34L146.51,135.67L146.69,136.01L146.86,136.34L147.04,136.67L147.22,137.00L147.40,137.33L147.58,137.66L147.76,137.99L147.95,138.32L148.13,138.65L148.31,138.98L148.49,139.31L148.68,139.64L148.86,139.97L149.04,140.30L149.24,140.66L149.44,141.03L149.64,141.39L149.84,141.76L150.04,142.12L150.24,142.49L150.44,142.85L150.64,143.22L150.84,143.58L151.05,143.94L151.25,144.31L151.46,144.67L151.66,145.03L151.87,145.39L152.09,145.74L152.30,146.10L152.58,146.56L152.87,147.02L153.15,147.48L153.45,147.94L153.74,148.39L154.04,148.84L154.34,149.29L154.64,149.74L154.94,150.19L155.24,150.64L155.55,151.08L155.85,151.53L156.16,151.97L156.47,152.41L156.78,152.86L157.09,153.30L157.35,153.67L157.60,154.03L157.86,154.40L158.12,154.77L158.38,155.13L158.64,155.49L158.91,155.86L159.17,156.22L159.43,156.58L159.70,156.94L159.96,157.31L160.23,157.67L160.50,158.03L160.76,158.38L161.03,158.74L161.30,159.10L161.64,159.55L161.98,159.99L162.32,160.43L162.66,160.87L163.01,161.31L163.35,161.75L163.70,162.19L164.05,162.63L164.40,163.07L164.74,163.50L165.10,163.94L165.45,164.37L165.80,164.80L166.15,165.24L166.50,165.67L166.86,166.10L167.11,166.41L167.36,166.72L167.62,167.03L167.87,167.34L168.12,167.66L168.37,167.97L168.62,168.28L168.88,168.59L169.13,168.90L169.39,169.21L169.65,169.51L169.91,169.81L170.17,170.12L170.44,170.41L170.70,170.71L170.98,171.00L171.38,171.42L171.80,171.84L172.22,172.25L172.64,172.65L173.07,173.04L173.50,173.44L173.94,173.82L174.38,174.21L174.83,174.59L175.27,174.96L175.72,175.34L176.17,175.71L176.62,176.09L177.07,176.46L177.52,176.83L177.97,177.20L178.30,177.48L178.64,177.75L178.98,178.03L179.32,178.30L179.65,178.57L179.99,178.84L180.33,179.11L180.67,179.38L181.02,179.65L181.36,179.92L181.70,180.18L182.05,180.45L182.39,180.71L182.74,180.98L183.08,181.24L183.43,181.50L183.90,181.85L184.37,182.20L184.84,182.55L185.32,182.89L185.79,183.23L186.27,183.57L186.75,183.91L187.23,184.25L187.71,184.59L188.19,184.92L188.67,185.25L189.15,185.58L189.64,185.91L190.12,186.24L190.61,186.57L191.09,186.90L191.39,187.10L191.70,187.31L192.00,187.51L192.31,187.71L192.61,187.91L192.91,188.12L193.22,188.32L193.52,188.52L193.83,188.72L194.14,188.92L194.44,189.12L194.75,189.31L195.05,189.51L195.36,189.71L195.67,189.90L195.98,190.10L196.49,190.42L197.01,190.75L197.52,191.07L198.04,191.39L198.55,191.71L199.07,192.03L199.59,192.34L200.11,192.66L200.63,192.97L201.15,193.28L201.68,193.59L202.20,193.90L202.73,194.20L203.25,194.50L203.78,194.80L204.31,195.10L204.70,195.31L205.08,195.53L205.47,195.74L205.85,195.95L206.24,196.16L206.63,196.37L207.02,196.58L207.41,196.78L207.80,196.99L208.19,197.19L208.58,197.40L208.97,197.60L209.36,197.80L209.75,198.00L210.14,198.20L210.54,198.40L211.05,198.66L211.57,198.91L212.08,199.17L212.60,199.42L213.12,199.67L213.64,199.92L214.16,200.16L214.68,200.41L215.20,200.65L215.72,200.89L216.25,201.13L216.77,201.37L217.29,201.60L217.82,201.84L218.34,202.07L218.87,202.30L219.26,202.47L219.64,202.64L220.03,202.80L220.42,202.97L220.81,203.13L221.20,203.30L221.58,203.46L221.97,203.62L222.36,203.79L222.75,203.95L223.14,204.11L223.53,204.27L223.92,204.43L224.31,204.58L224.70,204.74L225.10,204.90L225.61,205.11L226.13,205.31L226.65,205.51L227.17,205.71L227.70,205.91L228.22,206.11L228.74,206.30L229.26,206.50L229.78,206.70L230.31,206.89L230.83,207.09L231.35,207.29L231.87,207.49L232.39,207.69L232.91,207.89L233.43,208.10L233.82,208.26L234.21,208.42L234.60,208.58L234.99,208.75L235.38,208.91L235.76,209.08L236.15,209.24L236.54,209.41L236.93,209.57L237.32,209.74L237.70,209.90L238.09,210.07L238.48,210.23L238.87,210.39L239.26,210.54L239.66,210.70L240.21,210.92L240.77,211.13L241.33,211.34L241.89,211.55L242.45,211.75L243.01,211.96L243.58,212.16L244.14,212.36L244.70,212.55L245.27,212.75L245.83,212.94L246.40,213.14L246.96,213.33L247.53,213.52L248.09,213.71L248.66,213.90L249.05,214.03L249.43,214.16L249.82,214.29L250.21,214.42L250.60,214.55L250.99,214.68L251.37,214.81L251.76,214.93L252.15,215.06L252.54,215.19L252.93,215.31L253.32,215.43L253.71,215.55L254.10,215.67L254.49,215.79L254.89,215.90L255.45,216.06L256.03,216.21L256.60,216.36L257.17,216.50L257.75,216.64L258.32,216.77L258.90,216.90L259.47,217.03L260.05,217.16L260.63,217.29L261.21,217.42L261.78,217.55L262.36,217.68L262.93,217.82L263.51,217.96L264.08,218.10L264.50,218.21L264.92,218.32L265.34,218.43L265.76,218.54L266.18,218.66L266.60,218.77L267.01,218.88L267.43,219.00L267.85,219.11L268.27,219.23L268.69,219.34L269.11,219.46L269.53,219.57L269.95,219.68L270.37,219.79L270.79,219.90L271.35,220.05L271.91,220.19L272.47,220.34L273.03,220.49L273.59,220.64L274.15,220.79L274.71,220.93L275.27,221.08L275.83,221.22L276.40,221.36L276.96,221.49L277.52,221.63L278.09,221.75L278.65,221.87L279.22,221.99L279.79,222.10L280.22,222.18L280.65,222.25L281.08,222.32L281.51,222.38L281.94,222.45L282.37,222.51L282.80,222.56L283.23,222.62L283.67,222.68L284.10,222.73L284.53,222.79L284.96,222.85L285.39,222.91L285.82,222.97L286.26,223.03L286.69,223.10L287.23,223.19L287.78,223.28L288.32,223.38L288.87,223.48L289.41,223.58L289.96,223.69L290.50,223.79L291.04,223.90L291.59,224.00L292.13,224.11L292.68,224.21L293.22,224.31L293.77,224.41L294.31,224.51L294.86,224.61L295.40,224.70L295.81,224.77L296.22,224.83L296.62,224.90L297.03,224.97L297.43,225.03L297.84,225.10L298.25,225.16L298.66,225.22L299.06,225.29L299.47,225.35L299.88,225.41L300.28,225.47L300.69,225.53L301.10,225.59L301.51,225.64L301.92,225.70L302.48,225.78L303.04,225.85L303.60,225.92L304.16,225.99L304.72,226.06L305.29,226.13L305.85,226.20L306.41,226.26L306.97,226.32L307.54,226.38L308.10,226.44L308.66,226.50L309.23,226.55L309.79,226.60L310.36,226.65L310.92,226.70L311.36,226.73L311.79,226.77L312.23,226.80L312.67,226.82L313.10,226.85L313.54,226.87L313.98,226.90L314.41,226.92L314.85,226.94L315.29,226.97L315.73,226.99L316.16,227.01L316.60,227.03L317.04,227.05L317.47,227.08L317.91,227.10L318.50,227.13L319.09,227.17L319.67,227.20L320.26,227.24L320.84,227.28L321.43,227.32L322.02,227.35L322.60,227.39L323.19,227.42L323.78,227.46L324.36,227.49L324.95,227.52L325.54,227.54L326.12,227.57L326.71,227.59L327.30,227.60L327.69,227.61L328.09,227.62L328.48,227.62L328.88,227.63L329.27,227.63L329.67,227.64L330.06,227.64L330.46,227.64L330.86,227.64L331.25,227.64L331.65,227.64L332.04,227.63L332.44,227.63L332.83,227.62L333.23,227.61L333.62,227.60L334.18,227.58L334.75,227.55L335.31,227.52L335.87,227.49L336.44,227.45L337.00,227.40L337.56,227.36L338.13,227.31L338.69,227.26L339.25,227.21L339.81,227.15L340.38,227.10L340.94,227.05L341.50,227.00L342.06,226.95L342.62,226.90L343.06,226.86L343.49,226.83L343.92,226.79L344.35,226.75L344.78,226.72L345.21,226.68L345.64,226.64L346.07,226.60L346.50,226.56L346.93,226.52L347.37,226.49L347.80,226.45L348.23,226.41L348.66,226.37L349.09,226.34L349.52,226.30L349.83,226.28L350.13,226.25L350.44,226.23L350.74,226.21L351.05,226.19L351.35,226.17L351.66,226.15L351.97,226.12L352.27,226.10L352.58,226.08L352.88,226.05L353.19,226.03L353.49,226.00L353.80,225.97L354.10,225.94L354.41,225.90L354.71,225.86L355.01,225.80L355.31,225.74L355.61,225.67L355.90,225.60L356.20,225.52L356.50,225.45L356.80,225.37L357.10,225.31L357.40,225.24L357.69,225.19L357.99,225.14L358.29,225.11L358.59,225.09L358.89,225.08L359.20,225.10L359.40,225.12L359.60,225.14L359.81,225.16L360.01,225.19L360.22,225.22L360.42,225.25L360.62,225.29L360.82,225.33L361.02,225.38L361.22,225.43L361.42,225.49L361.61,225.56L361.80,225.63L361.99,225.71L362.18,225.80L362.36,225.90L362.53,226.01L362.71,226.13L362.87,226.26L363.03,226.39L363.19,226.53L363.34,226.68L363.49,226.84L363.63,226.99L363.77,227.16L363.91,227.32L364.05,227.48L364.19,227.65L364.33,227.82L364.47,227.98L364.61,228.14L364.75,228.30L364.94,228.50L365.12,228.70L365.31,228.90L365.50,229.10L365.69,229.31L365.88,229.51L366.06,229.71L366.24,229.92L366.42,230.13L366.60,230.34L366.77,230.56L366.93,230.77L367.09,231.00L367.25,231.23L367.39,231.46L367.53,231.70L367.67,231.97L367.79,232.24L367.90,232.51L368.01,232.79L368.11,233.08L368.19,233.37L368.28,233.66L368.36,233.95L368.43,234.24L368.50,234.54L368.58,234.84L368.65,235.13L368.72,235.43L368.80,235.72L368.88,236.01L368.97,236.30L369.09,236.71L369.22,237.11L369.35,237.51L369.49,237.92L369.62,238.32L369.76,238.73L369.89,239.13L370.02,239.53L370.15,239.94L370.28,240.35L370.41,240.75L370.53,241.16L370.65,241.57L370.76,241.98L370.87,242.39L370.98,242.80L371.10,243.34L371.21,243.87L371.32,244.42L371.41,244.96L371.50,245.50L371.58,246.05L371.65,246.59L371.73,247.14L371.80,247.69L371.88,248.24L371.95,248.78L372.03,249.33L372.11,249.87L372.21,250.42L372.30,250.96L372.41,251.50L372.51,251.95L372.62,252.40L372.74,252.85L372.86,253.30L372.98,253.75L373.11,254.20L373.24,254.64L373.37,255.09L373.49,255.54L373.62,255.99L373.74,256.43L373.85,256.88L373.96,257.33L374.06,257.79L374.15,258.24L374.23,258.70L374.31,259.21L374.37,259.72L374.42,260.23L374.45,260.74L374.48,261.25L374.50,261.77L374.51,262.28L374.53,262.80L374.54,263.31L374.56,263.83L374.58,264.34L374.60,264.86L374.63,265.37L374.68,265.88L374.74,266.39L374.81,266.90L374.88,267.36L374.97,267.81L375.06,268.27L375.15,268.72L375.25,269.17L375.36,269.62L375.47,270.07L375.58,270.52L375.69,270.97L375.81,271.42L375.93,271.87L376.05,272.31L376.17,272.76L376.29,273.21L376.41,273.65L376.53,274.10L376.60,274.36L376.67,274.61L376.74,274.87L376.81,275.13L376.88,275.39L376.95,275.64L377.02,275.90L377.09,276.15L377.16,276.41L377.24,276.67L377.31,276.92L377.38,277.18L377.46,277.43L377.53,277.69L377.61,277.94L377.68,278.20L377.74,278.39L377.80,278.59L377.86,278.78L377.92,278.98L377.98,279.17L378.04,279.36L378.10,279.56L378.16,279.75L378.22,279.94L378.28,280.14L378.34,280.33L378.40,280.53L378.46,280.72L378.52,280.91L378.58,281.11L378.64,281.30" stroke="#ff0000" stroke-width="1.9" stroke-dasharray="7.00 3.95 1.15 3.95" stroke-dashoffset="6.10"/>
<path transform="scale(1.044,1)" d="M378.64,281.30L378.68,281.40L378.71,281.51L378.74,281.62L378.76,281.74L378.79,281.86L378.81,281.98L378.84,282.10L378.86,282.22L378.89,282.33L378.93,282.43L378.97,282.53L379.02,282.61L379.07,282.68L379.14,282.74L379.22,282.78L379.31,282.80L379.41,282.80L379.50,282.77L379.57,282.73L379.64,282.66L379.71,282.58L379.76,282.49L379.81,282.38L379.86,282.27L379.90,282.15L379.94,282.02L379.97,281.89L380.01,281.76L380.05,281.64L380.09,281.52L380.13,281.40L380.17,281.30L380.29,281.05L380.39,280.79L380.49,280.53L380.58,280.27L380.66,280.01L380.74,279.74L380.81,279.47L380.87,279.20L380.93,278.92L380.99,278.65L381.05,278.37L381.10,278.10L381.16,277.82L381.21,277.55L381.27,277.27L381.32,277.00L381.38,276.73L381.43,276.47L381.48,276.20L381.53,275.93L381.58,275.67L381.63,275.40L381.67,275.13L381.71,274.86L381.76,274.59L381.80,274.32L381.83,274.05L381.87,273.78L381.90,273.51L381.93,273.24L381.96,272.97L381.99,272.70L382.02,272.43L382.04,272.15L382.06,271.88L382.08,271.60L382.09,271.33L382.11,271.05L382.12,270.78L382.13,270.50L382.14,270.23L382.14,269.95L382.15,269.68L382.16,269.40L382.16,269.13L382.17,268.85L382.18,268.58L382.18,268.30L382.20,267.78L382.21,267.26L382.21,266.74L382.22,266.23L382.22,265.71L382.22,265.19L382.22,264.67L382.21,264.15L382.21,263.63L382.20,263.11L382.20,262.59L382.19,262.08L382.19,261.56L382.19,261.04L382.18,260.52L382.18,260.00L382.18,245.00L382.18,230.00L382.18,215.00L382.18,200.00L382.18,185.00L382.18,170.00L382.18,155.00L382.18,140.00L382.18,125.00L382.18,110.00L382.18,95.00L382.18,80.00L382.18,65.00L382.18,50.00L382.18,35.00L382.18,20.00" stroke="#ff0000" stroke-width="1.9499999999999997" stroke-dasharray="7.00 3.95 1.15 3.95" stroke-dashoffset="0.00"/>
<path d="M399.0,26.00V28.60" stroke="#ff00ff" stroke-width="2"/>
<path d="M399.0,28.50V31.90" stroke="#ff00ff" stroke-width="2"/>
<path d="M399.0,31.90V33.00" stroke="#0000ff" stroke-width="2"/>
<path d="M399.0,33.00V34.10" stroke="#ff00ff" stroke-width="2"/>
<path d="M399.0,34.10V36.00" stroke="#0000ff" stroke-width="2"/>
<path d="M399.0,44.60V48.00" stroke="#ff00ff" stroke-width="2"/>
<path d="M399.0,48.00V49.10" stroke="#0000ff" stroke-width="2"/>
<path d="M399.0,49.10V50.20" stroke="#ff00ff" stroke-width="2"/>
<path d="M399.0,50.20V52.10" stroke="#0000ff" stroke-width="2"/>
<path d="M399.0,60.70V64.10" stroke="#ff00ff" stroke-width="2"/>
<path d="M399.0,64.10V65.20" stroke="#0000ff" stroke-width="2"/>
<path d="M399.0,65.20V66.30" stroke="#ff00ff" stroke-width="2"/>
<path d="M399.0,66.30V68.20" stroke="#0000ff" stroke-width="2"/>
<path d="M399.0,76.80V80.20" stroke="#ff00ff" stroke-width="2"/>
<path d="M399.0,80.20V81.30" stroke="#0000ff" stroke-width="2"/>
<path d="M399.0,81.30V82.40" stroke="#ff00ff" stroke-width="2"/>
<path d="M399.0,82.40V84.30" stroke="#0000ff" stroke-width="2"/>
<path d="M399.0,92.90V96.30" stroke="#ff00ff" stroke-width="2"/>
<path d="M399.0,96.30V97.40" stroke="#0000ff" stroke-width="2"/>
<path d="M399.0,97.40V98.50" stroke="#ff00ff" stroke-width="2"/>
<path d="M399.0,98.50V100.40" stroke="#0000ff" stroke-width="2"/>
<path d="M399.0,109.00V112.40" stroke="#ff00ff" stroke-width="2"/>
<path d="M399.0,112.40V113.50" stroke="#0000ff" stroke-width="2"/>
<path d="M399.0,113.50V114.60" stroke="#ff00ff" stroke-width="2"/>
<path d="M399.0,114.60V116.50" stroke="#0000ff" stroke-width="2"/>
<path d="M399.0,125.10V128.50" stroke="#ff00ff" stroke-width="2"/>
<path d="M399.0,128.50V129.60" stroke="#0000ff" stroke-width="2"/>
<path d="M399.0,129.60V130.70" stroke="#ff00ff" stroke-width="2"/>
<path d="M399.0,130.70V132.60" stroke="#0000ff" stroke-width="2"/>
<path d="M399.0,36.00V44.60" stroke="#ff0000" stroke-width="2"/>
<path d="M399.0,52.10V60.70" stroke="#ff0000" stroke-width="2"/>
<path d="M399.0,68.20V76.80" stroke="#ff0000" stroke-width="2"/>
<path d="M399.0,84.30V92.90" stroke="#ff0000" stroke-width="2"/>
<path d="M399.0,100.40V109.00" stroke="#ff0000" stroke-width="2"/>
<path d="M399.0,116.50V125.10" stroke="#ff0000" stroke-width="2"/>
<path d="M399.2,26.5V306.5" stroke="#000" stroke-opacity="0.45" stroke-width="1.6" stroke-dasharray="7.2 6.0" stroke-dashoffset="3.3"/>
</g>
<g font-family="Liberation Sans, sans-serif" font-size="12" fill="#000">
<text transform="translate(127.70,319) scale(1,0.9)" text-anchor="middle">0</text>
<text transform="translate(172.00,319) scale(1,0.9)" text-anchor="middle">0.5</text>
<path transform="translate(212.97,319) scale(0.005859,0.005273)" d="M515,0V-1237L197,-1010V-1180L530,-1409H696V0Z"/>
<path transform="translate(252.26,319) scale(0.005859,0.005273)" d="M515,0V-1237L197,-1010V-1180L530,-1409H696V0Z"/>
<text transform="translate(258.93,319) scale(1,0.9)">.5</text>
<text transform="translate(304.90,319) scale(1,0.9)" text-anchor="middle">2</text>
<text transform="translate(349.20,319) scale(1,0.9)" text-anchor="middle">2.5</text>
<text transform="translate(393.50,319) scale(1,0.9)" text-anchor="middle">3</text>
<text transform="translate(438.30,319) scale(1,0.9)" text-anchor="middle">3.5</text>
<text transform="translate(124.0,30.30) scale(1,0.9)" text-anchor="end">−2</text>
<text transform="translate(124.0,58.30) scale(1,0.9)" text-anchor="end">−2.2</text>
<text transform="translate(124.0,86.30) scale(1,0.9)" text-anchor="end">−2.4</text>
<text transform="translate(124.0,114.30) scale(1,0.9)" text-anchor="end">−2.6</text>
<text transform="translate(124.0,142.30) scale(1,0.9)" text-anchor="end">−2.8</text>
<text transform="translate(124.0,170.30) scale(1,0.9)" text-anchor="end">−3</text>
<text transform="translate(124.0,198.30) scale(1,0.9)" text-anchor="end">−3.2</text>
<text transform="translate(124.0,226.30) scale(1,0.9)" text-anchor="end">−3.4</text>
<text transform="translate(124.0,254.30) scale(1,0.9)" text-anchor="end">−3.6</text>
<text transform="translate(124.0,282.30) scale(1,0.9)" text-anchor="end">−3.8</text>
<text transform="translate(124.0,310.30) scale(1,0.9)" text-anchor="end">−4</text>
</g>
<rect x="132.5" y="252.05" width="139.8" height="50.45" fill="#fff" stroke="#000" stroke-width="1"/>
<path d="M139.2,261.1H174" stroke="#0000ff" stroke-width="2"/>
<g font-family="Liberation Serif, serif" fill="#000" opacity="0.92" stroke="#fff" stroke-width="0.03"><text x="178" y="265.6" font-size="10.8" textLength="13.8" lengthAdjust="spacingAndGlyphs">log</text><text x="192.3" y="268.70000000000005" font-size="7.9" stroke="none" textLength="8.1" lengthAdjust="spacingAndGlyphs">10</text><text x="203.3" y="265.6" font-size="12" font-style="italic" stroke-width="0.22" textLength="11" lengthAdjust="spacingAndGlyphs">M</text><circle cx="215.8" cy="265.1" r="1.55" stroke="none"/><path d="M219.0,267.90000000000003L223.3,257.5" stroke="#000" stroke-width="0.75" fill="none"/><text x="224.7" y="265.6" font-size="12" font-style="italic" stroke-width="0.22" textLength="11" lengthAdjust="spacingAndGlyphs">M</text><circle cx="238.7" cy="265.20000000000005" r="2.3" fill="none" stroke="#000" stroke-width="0.5"/><circle cx="238.7" cy="265.20000000000005" r="0.65" stroke="none"/><path d="M244.5,261.65H252.8M244.5,263.75H252.8" stroke="#000" stroke-width="0.7" fill="none"/><text x="257" y="265.6" font-size="12" textLength="5.6" lengthAdjust="spacingAndGlyphs">5</text></g>
<path d="M139.2,277.0H174" stroke="#ff00ff" stroke-width="2"/>
<g font-family="Liberation Serif, serif" fill="#000" opacity="0.92" stroke="#fff" stroke-width="0.03"><text x="178" y="281.3" font-size="10.8" textLength="13.8" lengthAdjust="spacingAndGlyphs">log</text><text x="192.3" y="284.40000000000003" font-size="7.9" stroke="none" textLength="8.1" lengthAdjust="spacingAndGlyphs">10</text><text x="203.3" y="281.3" font-size="12" font-style="italic" stroke-width="0.22" textLength="11" lengthAdjust="spacingAndGlyphs">M</text><circle cx="215.8" cy="280.8" r="1.55" stroke="none"/><path d="M219.0,283.6L223.3,273.2" stroke="#000" stroke-width="0.75" fill="none"/><text x="224.7" y="281.3" font-size="12" font-style="italic" stroke-width="0.22" textLength="11" lengthAdjust="spacingAndGlyphs">M</text><circle cx="238.7" cy="280.90000000000003" r="2.3" fill="none" stroke="#000" stroke-width="0.5"/><circle cx="238.7" cy="280.90000000000003" r="0.65" stroke="none"/><path d="M244.5,277.65H252.8M244.5,279.75H252.8" stroke="#000" stroke-width="0.7" fill="none"/><text x="257" y="281.3" font-size="12" textLength="5.6" lengthAdjust="spacingAndGlyphs">6</text></g>
<path d="M139.2,292.8H174" stroke="#ff0000" stroke-width="2"/>
<g font-family="Liberation Serif, serif" fill="#000" opacity="0.92" stroke="#fff" stroke-width="0.03"><text x="178" y="296.9" font-size="10.8" textLength="13.8" lengthAdjust="spacingAndGlyphs">log</text><text x="192.3" y="300.0" font-size="7.9" stroke="none" textLength="8.1" lengthAdjust="spacingAndGlyphs">10</text><text x="203.3" y="296.9" font-size="12" font-style="italic" stroke-width="0.22" textLength="11" lengthAdjust="spacingAndGlyphs">M</text><circle cx="215.8" cy="296.4" r="1.55" stroke="none"/><path d="M219.0,299.2L223.3,288.79999999999995" stroke="#000" stroke-width="0.75" fill="none"/><text x="224.7" y="296.9" font-size="12" font-style="italic" stroke-width="0.22" textLength="11" lengthAdjust="spacingAndGlyphs">M</text><circle cx="238.7" cy="296.5" r="2.3" fill="none" stroke="#000" stroke-width="0.5"/><circle cx="238.7" cy="296.5" r="0.65" stroke="none"/><path d="M244.5,292.65H252.8M244.5,294.75H252.8" stroke="#000" stroke-width="0.7" fill="none"/><text x="257" y="296.9" font-size="12" textLength="5.6" lengthAdjust="spacingAndGlyphs">7</text></g>
<g font-family="Liberation Serif, serif" fill="#000" opacity="0.92" stroke="#fff" stroke-width="0.03"><text x="231.6" y="338.8" font-size="16" font-style="italic" stroke-width="0.22" textLength="16" lengthAdjust="spacingAndGlyphs">M</text><circle cx="241.7" cy="324.9" r="0.9" stroke="none"/><text x="246.6" y="340.5" font-size="11" textLength="23.8" lengthAdjust="spacingAndGlyphs">peak</text><text x="272" y="338.8" font-size="16" textLength="5" lengthAdjust="spacingAndGlyphs">(</text><text x="277" y="338.8" font-size="16" font-style="italic" stroke-width="0.22" textLength="16.5" lengthAdjust="spacingAndGlyphs">M</text><circle cx="297" cy="338.8" r="2.9" fill="none" stroke="#000" stroke-width="0.55"/><circle cx="297" cy="338.8" r="0.6" stroke="none"/><path d="M301.9,342.1L309.7,326.8" stroke="#000" stroke-width="0.9" fill="none"/><text x="309.5" y="338.8" font-size="16" textLength="15" lengthAdjust="spacingAndGlyphs">yr</text><text x="325.5" y="338.8" font-size="16" textLength="5" lengthAdjust="spacingAndGlyphs">)</text></g>
<g transform="translate(87.8,255.6) rotate(-90)" font-family="Liberation Serif, serif" fill="#000" opacity="0.92" stroke="#fff" stroke-width="0.03">
<text x="0" y="0" font-size="14" textLength="15.4" lengthAdjust="spacingAndGlyphs">log</text>
<text x="16.5" y="3.9" font-size="9.5" stroke="none" textLength="8.5" lengthAdjust="spacingAndGlyphs">10</text>
<path d="M30,-10.2H27.8V3.8H30" stroke="#000" stroke-width="0.8" fill="none"/>
<text x="30.4" y="0" font-size="14" font-style="italic" stroke-width="0.22" textLength="6" lengthAdjust="spacingAndGlyphs">d</text>
<text x="36.6" y="0" font-size="14" font-style="italic" stroke-width="0.22" textLength="11" lengthAdjust="spacingAndGlyphs">N</text>
<circle cx="44.1" cy="-11.6" r="0.8" stroke="none"/>
<path d="M49.3,3.6L54.7,-10.1" stroke="#000" stroke-width="0.8" fill="none"/>
<text x="56" y="0" font-size="14" font-style="italic" stroke-width="0.22" textLength="6" lengthAdjust="spacingAndGlyphs">d</text>
<text x="62.2" y="0" font-size="14" font-style="italic" stroke-width="0.22" textLength="13.8" lengthAdjust="spacingAndGlyphs">M</text>
<circle cx="71.1" cy="-11.6" r="0.8" stroke="none"/>
<text x="75.9" y="3.3" font-size="9.5" stroke="none" textLength="16.1" lengthAdjust="spacingAndGlyphs">peak</text>
<path d="M99.3,-6.7L106,0.1M99.3,0.1L106,-6.7" stroke="#000" stroke-width="0.75" fill="none"/>
<path d="M115.4,-10.4C111.6,-6.5 111.6,0 115.4,3.9" fill="none" stroke="#000" stroke-width="0.8"/>
<path d="M147,-10.4C150.8,-6.5 150.8,0 147,3.9" fill="none" stroke="#000" stroke-width="0.8"/>
<path d="M116.4,-2.3H144.4" stroke="#000" stroke-width="0.7"/>
<text x="124.2" y="-4.8" font-size="10" font-style="italic" stroke-width="0.16" textLength="9.8" lengthAdjust="spacingAndGlyphs">M</text>
<circle cx="135.3" cy="-4.2" r="1.3" stroke="none"/>
<text x="116.6" y="5.7" font-size="9" stroke="none" textLength="6.2" lengthAdjust="spacingAndGlyphs">10</text>
<text x="122.8" y="2.2" font-size="6" stroke="none" textLength="2.8" lengthAdjust="spacingAndGlyphs">6</text>
<text x="127.4" y="5.9" font-size="8.6" font-style="italic" stroke-width="0.16" textLength="10.6" lengthAdjust="spacingAndGlyphs">M</text>
<circle cx="141.1" cy="5.6" r="2.0" fill="none" stroke="#000" stroke-width="0.5"/><circle cx="141.1" cy="5.6" r="0.5" stroke="none"/>
<path d="M152.4,-6.5H158.1" stroke="#000" stroke-width="0.7"/>
<text x="159.4" y="-3.9" font-size="9" stroke="none" textLength="3.6" lengthAdjust="spacingAndGlyphs">1</text>
<path d="M163.7,-1.8L167.2,-10.9" stroke="#000" stroke-width="0.65" fill="none"/>
<text x="168.2" y="-3.9" font-size="9" stroke="none" textLength="4.4" lengthAdjust="spacingAndGlyphs">2</text>
<path d="M173.1,-10.2H175.3V3.8H173.1" stroke="#000" stroke-width="0.8" fill="none"/>
</g>
</svg></body></html>
